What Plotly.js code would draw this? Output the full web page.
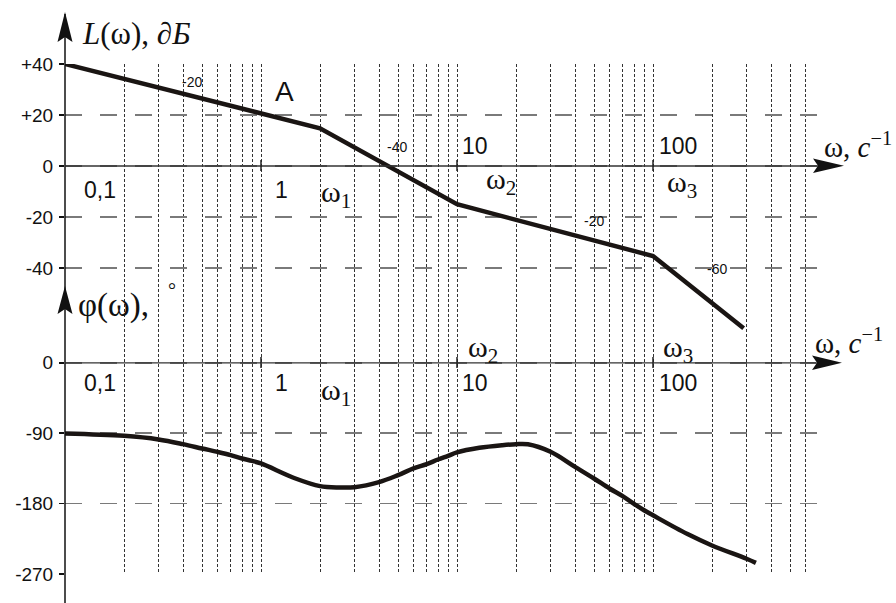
<!DOCTYPE html>
<html>
<head>
<meta charset="utf-8">
<script src="https://cdn.plot.ly/plotly-3.0.1.min.js"></script>
<style>
  html, body { margin: 0; padding: 0; background: #fff; }
  #chart { width: 896px; height: 603px; }
</style>
</head>
<body>
<div id="chart"></div>
<script>
// amplitude asymptotes L(w), dB
var omegaL = [0.1, 2, 10, 100, 290];
var ampL = [40, 14.8, -15, -35.3, -63.6];

// phase phi(w), deg
var omegaPhi = [0.1, 0.2, 0.3, 0.4, 0.5, 0.6, 0.7, 0.8, 0.9, 1, 1.5, 2, 2.5, 3, 4, 5, 6, 7, 8, 9,
                10, 13, 17, 20, 23, 30, 40, 50, 60, 70, 80, 90, 100, 150, 200, 300, 335];
var phi = [-90.3, -93.4, -98, -104, -109.5, -113.9, -118, -122.3, -125.4, -128.7, -147.9, -157.7,
           -159.4, -159, -152.5, -143.6, -135.1, -129.6, -123.6, -119, -114.6, -108.7, -105.3, -104,
           -104.2, -113.8, -133, -147.9, -160.7, -170.5, -180.2, -188.5, -195, -219, -233.5, -250.5, -255.8];

// grid / ticks
var gridW = [0.2, 0.3, 0.4, 0.5, 0.6, 0.7, 0.8, 0.9, 1, 2, 3, 4, 5, 6, 7, 8, 9,
             10, 20, 30, 40, 50, 60, 70, 80, 90, 100, 200, 300, 400, 500, 600];
var decades = [1, 10, 100];
var ampTicks = [40, 20, 0, -20, -40];
var ampText = ['+40', '+20', '0', '-20', '-40'];
var phiTicks = [0, -90, -180, -270];
var phiText = ['0', '-90', '-180', '-270'];

// plot box in pixels
var L0 = 65, R0 = 819, T0 = 64, B0 = 574, DEC = 196;
function fx(px) { return (px - L0) / (R0 - L0); }
function fy(py) { return (B0 - py) / (B0 - T0); }
function path(pts) {
  return 'M' + pts.map(function (p) { return fx(p[0]) + ',' + fy(p[1]); }).join(' L') + ' Z';
}

var ink = '#1a1513';
var sans = 'Liberation Sans, Arial, sans-serif';
var serif = 'Liberation Serif, Times New Roman, serif';

var traceL = {
  type: 'scatter', mode: 'lines',
  x: omegaL, y: ampL,
  line: { color: ink, width: 4.5 },
  yaxis: 'y', hoverinfo: 'skip'
};
var tracePhi = {
  type: 'scatter', mode: 'lines',
  x: omegaPhi, y: phi,
  line: { color: ink, width: 4.5, shape: 'spline', smoothing: 1 },
  yaxis: 'y2', hoverinfo: 'skip'
};

var shapes = [
  // vertical axis
  { type: 'line', xref: 'paper', yref: 'paper', x0: 0, x1: 0, y0: fy(603), y1: fy(14), line: { color: '#111', width: 1.5 } },
  // omega axes
  { type: 'line', xref: 'paper', yref: 'y', x0: 0, x1: fx(818), y0: 0, y1: 0, line: { color: '#333', width: 1.3 } },
  { type: 'line', xref: 'paper', yref: 'y2', x0: 0, x1: fx(816), y0: 0, y1: 0, line: { color: '#333', width: 1.3 } },
  // arrow heads
  { type: 'path', xref: 'paper', yref: 'paper', path: path([[65, 12], [57.5, 42], [65, 37], [72.5, 42]]), fillcolor: '#111', line: { width: 0 } },
  { type: 'path', xref: 'paper', yref: 'paper', path: path([[65, 286], [57.5, 314], [65, 309], [72.5, 314]]), fillcolor: '#111', line: { width: 0 } },
  { type: 'path', xref: 'paper', yref: 'paper', path: path([[844, 165.8], [813, 158.5], [818, 165.8], [813, 173]]), fillcolor: '#111', line: { width: 0 } },
  { type: 'path', xref: 'paper', yref: 'paper', path: path([[842, 362.7], [812, 355.5], [817, 362.7], [812, 370]]), fillcolor: '#111', line: { width: 0 } }
];
decades.forEach(function (d) {
  var p = fx(L0 + (Math.log10(d) + 1) * DEC);
  shapes.push({ type: 'line', xref: 'paper', yref: 'paper', x0: p, x1: p, y0: fy(171), y1: fy(160), line: { color: '#222', width: 1.5 } });
  shapes.push({ type: 'line', xref: 'paper', yref: 'paper', x0: p, x1: p, y0: fy(368), y1: fy(357), line: { color: '#222', width: 1.5 } });
});

function ann(text, px, py, size, family, xa) {
  return {
    text: text, xref: 'paper', yref: 'paper', x: fx(px), y: fy(py),
    xanchor: xa || 'left', yanchor: 'middle', showarrow: false,
    font: { family: family, size: size, color: '#111' }
  };
}

var annotations = [
  ann('<i>L</i>(ω), <i>∂Б</i>', 80, 33, 31, serif),
  ann('ω, <i>c</i><sup>−1</sup>', 822, 145, 29, serif),
  ann('ω, <i>c</i><sup>−1</sup>', 813, 341, 29, serif),
  ann('φ(ω),', 76, 305, 33, serif),
  ann('°', 166, 290, 20, serif),
  ann('0,1', 82, 190, 23, sans),
  ann('1', 273, 190, 23, sans),
  ann('ω<sub>1</sub>', 319, 194, 30, serif),
  ann('10', 460, 146, 23, sans),
  ann('100', 657, 146, 23, sans),
  ann('ω<sub>2</sub>', 484, 181, 30, serif),
  ann('ω<sub>3</sub>', 665, 184, 30, serif),
  ann('A', 273, 91, 28, sans),
  ann('-20', 180, 82, 14, sans),
  ann('-40', 385, 147, 14, sans),
  ann('-20', 582, 221, 14, sans),
  ann('-60', 705, 269, 14, sans),
  ann('0,1', 82, 383, 23, sans),
  ann('1', 273, 383, 23, sans),
  ann('ω<sub>1</sub>', 319, 392, 30, serif),
  ann('ω<sub>2</sub>', 466, 349, 30, serif),
  ann('10', 460, 383, 23, sans),
  ann('ω<sub>3</sub>', 661, 349, 30, serif),
  ann('100', 657, 383, 23, sans)
];

var yBase = {
  tickmode: 'array', ticks: 'outside', ticklen: 5, tickwidth: 1.5, tickcolor: '#111',
  ticklabelstandoff: 2,
  tickfont: { family: sans, size: 19, color: '#111' },
  showgrid: true, gridcolor: '#7a7a7a', gridwidth: 1.5, griddash: '17px,18px',
  zeroline: false, showline: false, fixedrange: true
};

var layout = {
  width: 896, height: 603,
  margin: { l: L0, r: 896 - R0, t: T0, b: 603 - B0, pad: 0 },
  paper_bgcolor: 'white', plot_bgcolor: 'white',
  showlegend: false,
  xaxis: {
    type: 'log', range: [-1, -1 + (R0 - L0) / DEC],
    tickmode: 'array', tickvals: gridW, showticklabels: false, ticks: '',
    showgrid: true, gridcolor: '#333', gridwidth: 1, griddash: '3px,2px',
    zeroline: false, showline: false, fixedrange: true
  },
  yaxis: Object.assign({}, yBase, {
    range: [-160, 40], tickvals: ampTicks, ticktext: ampText
  }),
  yaxis2: Object.assign({}, yBase, {
    overlaying: 'y', side: 'left', anchor: 'x',
    range: [-270, 382], tickvals: phiTicks, ticktext: phiText
  }),
  shapes: shapes,
  annotations: annotations
};

Plotly.newPlot('chart', [traceL, tracePhi], layout, { staticPlot: true });
</script>
</body>
</html>
